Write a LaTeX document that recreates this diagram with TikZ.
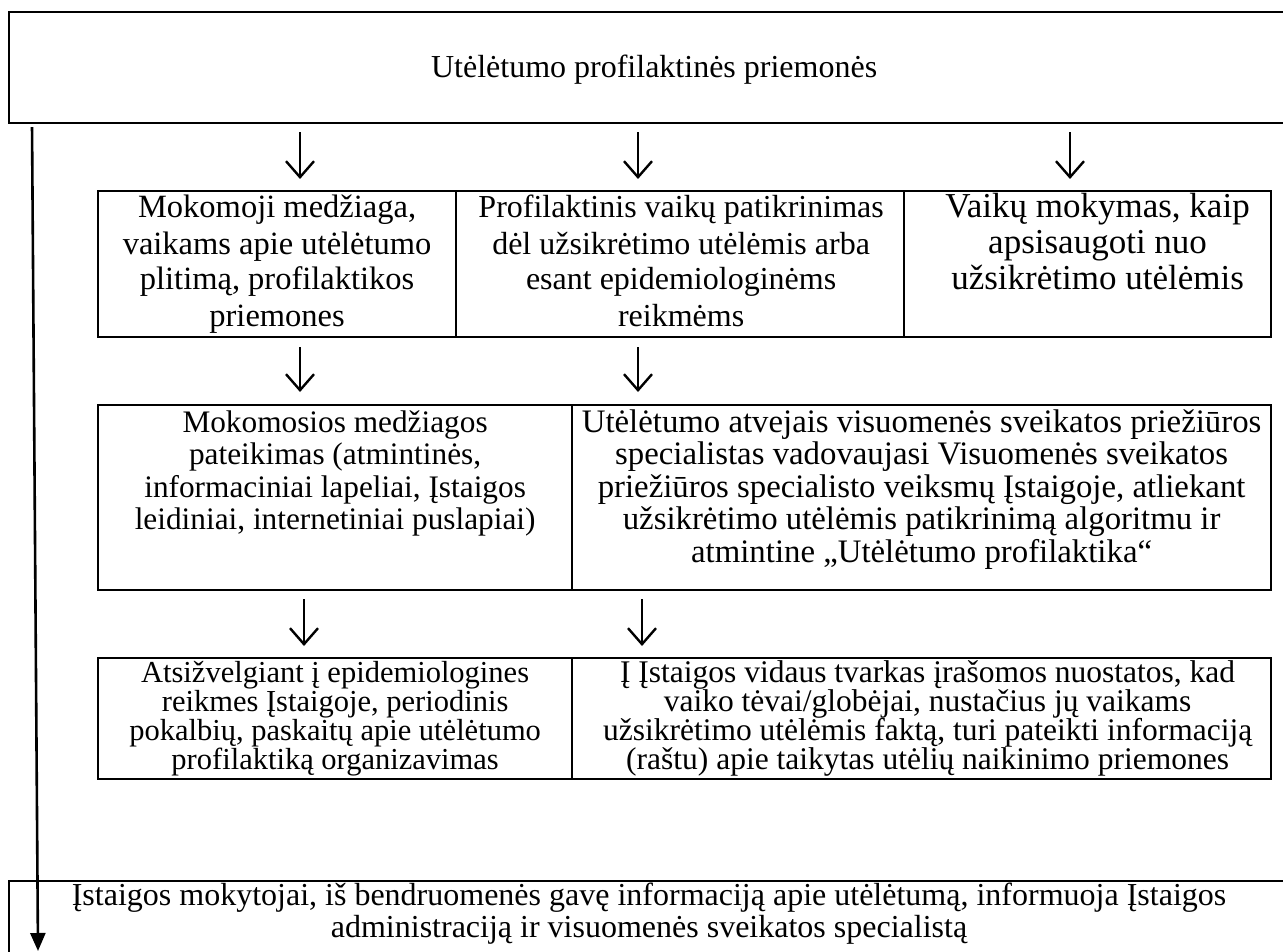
\documentclass[tikz,border=0pt]{standalone}
\usepackage{fontspec}
\setmainfont{Liberation Serif}
\usetikzlibrary{arrows.meta,calc}
\newcommand{\fsz}[2]{\fontsize{#1}{#2}\selectfont\lineskiplimit=-60pt\relax}
\begin{document}
\begin{tikzpicture}[x=1pt,y=-1pt,
  box/.style={draw, line width=2.2pt, inner sep=0pt, anchor=north west},
  txt/.style={align=center, inner sep=0pt, anchor=base},
  arr/.style={line width=2pt, -{Straight Barb[length=16pt,width=28pt,line width=2.4pt]}},
  longarr/.style={line width=2.6pt, -{Triangle[length=18pt,width=15pt]}},
]
\useasboundingbox (0,0) rectangle (1283,952);
% boxes
\node[box, minimum width=1290pt, minimum height=111pt] (top) at (8,11) {};
\node[box, minimum width=358pt, minimum height=146pt] (A) at (97,190) {};
\node[box, minimum width=448pt, minimum height=146pt] (B) at (455,190) {};
\node[box, minimum width=367pt, minimum height=146pt] (C) at (903,190) {};
\node[box, minimum width=474pt, minimum height=185pt] (D) at (97,404) {};
\node[box, minimum width=699pt, minimum height=185pt] (E) at (571,404) {};
\node[box, minimum width=474pt, minimum height=121pt] (F) at (97,657) {};
\node[box, minimum width=699pt, minimum height=121pt] (G) at (571,657) {};
\node[box, minimum width=1290pt, minimum height=90pt] (bot) at (8,880) {};
% texts (anchor = baseline of last line)
\node[txt, font=\fsz{32}{36}] (topt) at ($(top.north)+(0,67)$) {Utėlėtumo profilaktinės priemonės};
\node[txt, font=\fsz{32.5}{36}] (At) at ($(A.north)+(0,136)$) {Mokomoji medžiaga,\\vaikams apie utėlėtumo\\plitimą, profilaktikos\\priemones};
\node[txt, font=\fsz{32}{36}] (Bt) at ($(B.north)+(1,136)$) {Profilaktinis vaikų patikrinimas\\dėl užsikrėtimo utėlėmis arba\\esant epidemiologinėms\\reikmėms};
\node[txt, font=\fsz{35}{36}] (Ct) at ($(C.north)+(10,100)$) {Vaikų mokymas, kaip\\apsisaugoti nuo\\užsikrėtimo utėlėmis};
\node[txt, font=\fsz{31.3}{32.5}] (Dt) at ($(D.north)+(0,125.5)$) {Mokomosios medžiagos\\pateikimas (atmintinės,\\informaciniai lapeliai, Įstaigos\\leidiniai, internetiniai puslapiai)};
\node[txt, font=\fsz{32.8}{32.5}] (Et) at ($(E.north)+(0,158)$) {Utėlėtumo atvejais visuomenės sveikatos priežiūros\\specialistas vadovaujasi Visuomenės sveikatos\\priežiūros specialisto veiksmų Įstaigoje, atliekant\\užsikrėtimo utėlėmis patikrinimą algoritmu ir\\atmintine „Utėlėtumo profilaktika“};
\node[txt, font=\fsz{30.5}{29}] (Ft) at ($(F.north)+(0,112)$) {Atsižvelgiant į epidemiologines\\reikmes Įstaigoje, periodinis\\pokalbių, paskaitų apie utėlėtumo\\profilaktiką organizavimas};
\node[txt, font=\fsz{31.5}{29}] (Gt) at ($(G.north)+(6,112)$) {Į Įstaigos vidaus tvarkas įrašomos nuostatos, kad\\vaiko tėvai/globėjai, nustačius jų vaikams\\užsikrėtimo utėlėmis faktą, turi pateikti informaciją\\(raštu) apie taikytas utėlių naikinimo priemones};
\node[txt, font=\fsz{32}{32}] (bott) at ($(bot.north -| 649,0)+(0,57)$) {Įstaigos mokytojai, iš bendruomenės gavę informaciją apie utėlėtumą, informuoja Įstaigos\\administraciją ir visuomenės sveikatos specialistą};
% arrow columns
\coordinate (x1) at (300,0);
\coordinate (x2) at (638,0);
\coordinate (x3) at (1070,0);
\coordinate (x4) at (304,0);
\coordinate (x5) at (642,0);
\coordinate (xl) at (32,0);
\coordinate (xm) at (38,0);
\draw[arr, shorten <=8pt, shorten >=11pt] (top.south -| x1) -- (A.north -| x1);
\draw[arr, shorten <=8pt, shorten >=11pt] (top.south -| x2) -- (B.north -| x2);
\draw[arr, shorten <=8pt, shorten >=11pt] (top.south -| x3) -- (C.north -| x3);
\draw[arr, shorten <=9pt, shorten >=12pt] (A.south -| x1) -- (D.north -| x1);
\draw[arr, shorten <=9pt, shorten >=12pt] (B.south -| x2) -- (E.north -| x2);
\draw[arr, shorten <=8pt, shorten >=11pt] (D.south -| x4) -- (F.north -| x4);
\draw[arr, shorten <=8pt, shorten >=11pt] (E.south -| x5) -- (G.north -| x5);
\draw[longarr, shorten <=3pt] (top.south -| xl) -- ($(bot.north -| xm)+(0,71)$);
\end{tikzpicture}
\end{document}
